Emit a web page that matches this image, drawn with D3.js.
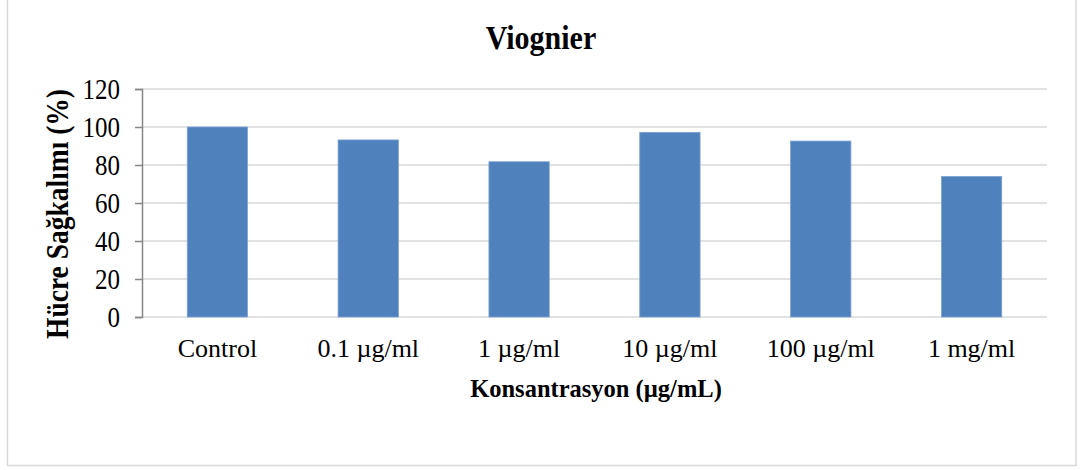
<!DOCTYPE html>
<html>
<head>
<meta charset="utf-8">
<script src="https://cdn.jsdelivr.net/npm/d3@7"></script>
<style>
  body { margin: 0; background: #fff; }
  svg text { font-family: "Liberation Serif", "Times New Roman", serif; fill: #000; }
</style>
</head>
<body>
<svg id="chart" width="1083" height="470"></svg>
<script>
// data
const categories = ["Control", "0.1 µg/ml", "1 µg/ml", "10 µg/ml", "100 µg/ml", "1 mg/ml"];
const survival = [100, 93.2, 81.7, 97.2, 92.6, 74.0];
const yTicks = [0, 20, 40, 60, 80, 100, 120];

const chartTitle = "Viognier";
const xTitle = "Konsantrasyon (µg/mL)";
const yTitle = "Hücre Sağkalımı (%)";

const svg = d3.select("svg#chart");

// outer frame
svg.append("rect")
  .attr("x", 7.5).attr("y", -3)
  .attr("width", 1068.5).attr("height", 468.5)
  .attr("fill", "#fff")
  .attr("stroke", "#d9d9d9")
  .attr("stroke-width", 1.5);

const plot = { left: 142, right: 1047, top: 89, bottom: 317 };

const x = d3.scaleBand()
  .domain(categories)
  .range([plot.left, plot.right])
  .paddingInner(0.6)
  .paddingOuter(0.3);

const y = d3.scaleLinear().domain([0, 120]).range([plot.bottom, plot.top]);

// gridlines
svg.append("g")
  .selectAll("line")
  .data(yTicks)
  .join("line")
  .attr("x1", plot.left).attr("x2", plot.right)
  .attr("y1", d => y(d)).attr("y2", d => y(d))
  .attr("stroke", "#d9d9d9")
  .attr("stroke-width", 1.5);

// bars
svg.append("g")
  .selectAll("rect")
  .data(survival)
  .join("rect")
  .attr("x", (d, i) => x(categories[i]))
  .attr("width", x.bandwidth())
  .attr("y", d => y(d))
  .attr("height", d => y(0) - y(d))
  .attr("fill", "#4f81bd")
  .attr("stroke", "#7fa3d1")
  .attr("stroke-width", 0.8);

// y axis
const yAxis = d3.axisLeft(y).tickValues(yTicks).tickSize(7).tickPadding(15);
const gy = svg.append("g")
  .attr("transform", `translate(${plot.left},0)`)
  .call(yAxis);
gy.select(".domain").attr("stroke", "#868686").attr("stroke-width", 1.5);
gy.selectAll(".tick line").attr("stroke", "#868686").attr("stroke-width", 1.5);
gy.selectAll(".tick text")
  .attr("font-size", 25)
  .attr("font-family", "Liberation Serif")
  .attr("fill", "#000")
  .attr("transform", "scale(1,1.15)");

// x axis labels (no ticks drawn)
const gx = svg.append("g")
  .attr("transform", `translate(0,${plot.bottom})`)
  .call(d3.axisBottom(x).tickSize(0));
gx.select(".domain").remove();
gx.selectAll(".tick text")
  .attr("y", 40)
  .attr("dy", 0)
  .attr("font-size", 26)
  .attr("font-family", "Liberation Serif")
  .attr("fill", "#000");

// titles
svg.append("text")
  .attr("transform", "translate(541,49) scale(1,1.12)")
  .attr("text-anchor", "middle")
  .attr("font-size", 30)
  .attr("font-weight", "bold")
  .text(chartTitle);

svg.append("text")
  .attr("x", 596).attr("y", 397)
  .attr("text-anchor", "middle")
  .attr("font-size", 24.5)
  .attr("font-weight", "bold")
  .text(xTitle);

svg.append("text")
  .attr("transform", "translate(68,214) rotate(-90) scale(1,1.12)")
  .attr("text-anchor", "middle")
  .attr("font-size", 27.5)
  .attr("font-weight", "bold")
  .text(yTitle);
</script>
</body>
</html>
